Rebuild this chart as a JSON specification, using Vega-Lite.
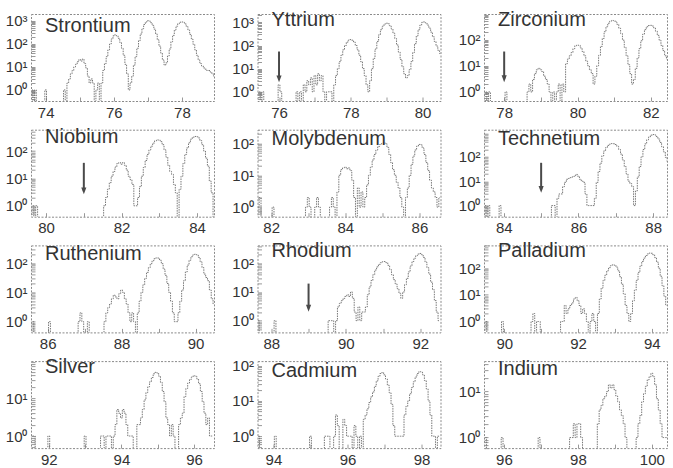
{
  "$schema": "https://vega.github.io/schema/vega-lite/v6.json",
  "padding": {"left": 4, "top": 7, "right": 0, "bottom": 0},
  "background": "white",
  "config": {
    "view": {"stroke": "#8a8a8a", "strokeWidth": 1, "strokeDash": [2, 1.5]},
    "axis": {
      "labelFont": "Liberation Sans", "labelFontSize": 15, "labelColor": "#333",
      "domain": false, "grid": false, "title": null,
      "tickColor": "#999", "tickSize": -4, "tickWidth": 1,
      "labelPadding": 8, "labelOverlap": false, "labelFlush": false, "labelBound": false
    },
    "axisX": {"labelExpr": "datum.value % 2 == 0 ? datum.label : ''"},
    "axisY": {"labelExpr": "datum.value == 1 ? '10⁰' : datum.value == 10 ? '10¹' : datum.value == 100 ? '10²' : datum.value == 1000 ? '10³' : ''"},
    "title": {"anchor": "start", "frame": "group", "offset": -22, "dx": 14, "baseline": "top",
      "font": "Liberation Sans", "fontSize": 20, "fontWeight": "normal", "color": "#333"}
  },
  "datasets": {
    "arrows": [
      {"el": "Y", "m": 76, "top": 55, "head": 3.6},
      {"el": "Zr", "m": 78, "top": 35, "head": 3.2},
      {"el": "Nb", "m": 81, "top": 37, "head": 3.5},
      {"el": "Tc", "m": 85, "top": 57, "head": 4.6},
      {"el": "Rh", "m": 89, "top": 19.6, "head": 2.7}
    ],
    "Sr": [
      {"m":73.60,"n":1},{"m":73.65,"n":0.1},{"m":73.70,"n":1},{"m":73.75,"n":0.1},
      {"m":73.95,"n":0.1},{"m":74.00,"n":1},{"m":74.05,"n":0.1},
      {"m":74.50,"n":0.1},{"m":74.55,"n":1},{"m":74.60,"n":0.1},{"m":74.65,"n":2},
      {"m":74.70,"n":3},{"m":74.75,"n":5},{"m":74.80,"n":7},{"m":74.85,"n":10},{"m":74.90,"n":13},{"m":74.95,"n":17},{"m":75.00,"n":21},{"m":75.05,"n":18},{"m":75.10,"n":22},{"m":75.15,"n":14},{"m":75.20,"n":9},{"m":75.25,"n":4},{"m":75.30,"n":2},{"m":75.35,"n":3},{"m":75.40,"n":2},{"m":75.45,"n":0.1},{"m":75.50,"n":1},{"m":75.55,"n":2},{"m":75.60,"n":0.1},
      {"m":75.65,"n":2},{"m":75.70,"n":7},{"m":75.75,"n":14},{"m":75.80,"n":28},{"m":75.85,"n":55},{"m":75.90,"n":100},{"m":75.95,"n":165},{"m":76.00,"n":225},{"m":76.05,"n":250},{"m":76.10,"n":225},{"m":76.15,"n":175},{"m":76.20,"n":115},{"m":76.25,"n":65},{"m":76.30,"n":32},{"m":76.35,"n":13},{"m":76.40,"n":5},{"m":76.45,"n":1},{"m":76.50,"n":2},{"m":76.55,"n":4},
      {"m":76.60,"n":12},{"m":76.65,"n":28},{"m":76.70,"n":65},{"m":76.75,"n":140},{"m":76.80,"n":270},{"m":76.85,"n":460},{"m":76.90,"n":700},{"m":76.95,"n":900},{"m":77.00,"n":1020},{"m":77.05,"n":980},{"m":77.10,"n":840},{"m":77.15,"n":640},{"m":77.20,"n":440},{"m":77.25,"n":270},{"m":77.30,"n":150},{"m":77.35,"n":80},{"m":77.40,"n":40},{"m":77.45,"n":20},{"m":77.50,"n":12},{"m":77.55,"n":15},{"m":77.60,"n":30},
      {"m":77.65,"n":60},{"m":77.70,"n":125},{"m":77.75,"n":235},{"m":77.80,"n":400},{"m":77.85,"n":590},{"m":77.90,"n":760},{"m":77.95,"n":880},{"m":78.00,"n":910},{"m":78.05,"n":870},{"m":78.10,"n":740},{"m":78.15,"n":570},{"m":78.20,"n":400},{"m":78.25,"n":260},{"m":78.30,"n":160},{"m":78.35,"n":95},{"m":78.40,"n":55},{"m":78.45,"n":32},{"m":78.50,"n":20},{"m":78.55,"n":14},{"m":78.60,"n":11},{"m":78.65,"n":9},{"m":78.70,"n":8},{"m":78.75,"n":7},{"m":78.80,"n":7},{"m":78.85,"n":6},{"m":78.90,"n":5},{"m":78.95,"n":4}
    ],
    "Y": [
      {"m":75.45,"n":1},{"m":75.50,"n":0.1},{"m":75.55,"n":1},{"m":75.60,"n":0.1},
      {"m":75.95,"n":0.1},{"m":76.00,"n":2},{"m":76.05,"n":1},{"m":76.10,"n":0.1},
      {"m":76.45,"n":0.1},{"m":76.50,"n":1},{"m":76.55,"n":0.1},{"m":76.60,"n":1},{"m":76.65,"n":0.1},{"m":76.70,"n":2},{"m":76.75,"n":1},{"m":76.80,"n":3},{"m":76.85,"n":2},{"m":76.90,"n":4},{"m":76.95,"n":1},{"m":77.00,"n":5},{"m":77.05,"n":2},{"m":77.10,"n":6},{"m":77.15,"n":3},{"m":77.20,"n":5},{"m":77.25,"n":1},{"m":77.30,"n":0.1},{"m":77.35,"n":1},{"m":77.40,"n":1},{"m":77.45,"n":1},{"m":77.50,"n":0.1},
      {"m":77.55,"n":2},{"m":77.60,"n":5},{"m":77.65,"n":10},{"m":77.70,"n":20},{"m":77.75,"n":38},{"m":77.80,"n":65},{"m":77.85,"n":100},{"m":77.90,"n":140},{"m":77.95,"n":170},{"m":78.00,"n":180},{"m":78.05,"n":170},{"m":78.10,"n":140},{"m":78.15,"n":100},{"m":78.20,"n":65},{"m":78.25,"n":38},{"m":78.30,"n":20},{"m":78.35,"n":10},{"m":78.40,"n":5},{"m":78.45,"n":2},{"m":78.50,"n":1},
      {"m":78.55,"n":3},{"m":78.60,"n":10},{"m":78.65,"n":28},{"m":78.70,"n":70},{"m":78.75,"n":150},{"m":78.80,"n":290},{"m":78.85,"n":480},{"m":78.90,"n":680},{"m":78.95,"n":850},{"m":79.00,"n":920},{"m":79.05,"n":870},{"m":79.10,"n":720},{"m":79.15,"n":520},{"m":79.20,"n":340},{"m":79.25,"n":200},{"m":79.30,"n":105},{"m":79.35,"n":52},{"m":79.40,"n":25},{"m":79.45,"n":12},{"m":79.50,"n":6},{"m":79.55,"n":4},{"m":79.60,"n":5},{"m":79.65,"n":9},
      {"m":79.70,"n":20},{"m":79.75,"n":50},{"m":79.80,"n":120},{"m":79.85,"n":260},{"m":79.90,"n":480},{"m":79.95,"n":760},{"m":80.00,"n":1000},{"m":80.05,"n":1050},{"m":80.10,"n":950},{"m":80.15,"n":760},{"m":80.20,"n":560},{"m":80.25,"n":380},{"m":80.30,"n":240},{"m":80.35,"n":150},{"m":80.40,"n":95},{"m":80.45,"n":62},{"m":80.50,"n":45}
    ],
    "Zr": [
      {"m":77.50,"n":1},{"m":77.55,"n":0.1},{"m":77.60,"n":1},{"m":77.65,"n":0.1},
      {"m":78.00,"n":0.1},{"m":78.05,"n":1},{"m":78.10,"n":0.1},
      {"m":78.60,"n":0.1},{"m":78.65,"n":1},{"m":78.70,"n":2},{"m":78.75,"n":1},
      {"m":78.80,"n":3},{"m":78.85,"n":5},{"m":78.90,"n":7},{"m":78.95,"n":8},{"m":79.00,"n":7},{"m":79.05,"n":6},{"m":79.10,"n":4},{"m":79.15,"n":3},{"m":79.20,"n":2},{"m":79.25,"n":1},{"m":79.30,"n":0.1},{"m":79.35,"n":1},{"m":79.40,"n":0.1},{"m":79.45,"n":1},{"m":79.50,"n":2},{"m":79.55,"n":0.1},{"m":79.60,"n":2},{"m":79.65,"n":1},
      {"m":79.70,"n":12},{"m":79.75,"n":18},{"m":79.80,"n":24},{"m":79.85,"n":32},{"m":79.90,"n":45},{"m":79.95,"n":58},{"m":80.00,"n":62},{"m":80.05,"n":60},{"m":80.10,"n":48},{"m":80.15,"n":35},{"m":80.20,"n":24},{"m":80.25,"n":15},{"m":80.30,"n":10},{"m":80.35,"n":7},{"m":80.40,"n":5},{"m":80.45,"n":2},{"m":80.50,"n":4},
      {"m":80.55,"n":10},{"m":80.60,"n":25},{"m":80.65,"n":55},{"m":80.70,"n":110},{"m":80.75,"n":200},{"m":80.80,"n":310},{"m":80.85,"n":420},{"m":80.90,"n":500},{"m":80.95,"n":540},{"m":81.00,"n":530},{"m":81.05,"n":470},{"m":81.10,"n":380},{"m":81.15,"n":270},{"m":81.20,"n":170},{"m":81.25,"n":95},{"m":81.30,"n":50},{"m":81.35,"n":24},{"m":81.40,"n":11},{"m":81.45,"n":5},{"m":81.50,"n":2},{"m":81.55,"n":3},
      {"m":81.60,"n":8},{"m":81.65,"n":20},{"m":81.70,"n":45},{"m":81.75,"n":90},{"m":81.80,"n":160},{"m":81.85,"n":240},{"m":81.90,"n":310},{"m":81.95,"n":345},{"m":82.00,"n":350},{"m":82.05,"n":330},{"m":82.10,"n":280},{"m":82.15,"n":210},{"m":82.20,"n":145},{"m":82.25,"n":95},{"m":82.30,"n":60},{"m":82.35,"n":38},{"m":82.40,"n":24},{"m":82.45,"n":18}
    ],
    "Nb": [
      {"m":79.65,"n":1},{"m":79.70,"n":0.1},{"m":79.75,"n":1},{"m":79.80,"n":0.1},
      {"m":81.50,"n":0.1},{"m":81.55,"n":1},{"m":81.60,"n":2},{"m":81.65,"n":4},{"m":81.70,"n":7},{"m":81.75,"n":12},{"m":81.80,"n":18},{"m":81.85,"n":26},{"m":81.90,"n":35},{"m":81.95,"n":38},{"m":82.00,"n":33},{"m":82.05,"n":38},{"m":82.10,"n":30},{"m":82.15,"n":20},{"m":82.20,"n":12},{"m":82.25,"n":9},{"m":82.30,"n":6},{"m":82.35,"n":1},{"m":82.40,"n":1},{"m":82.45,"n":2},
      {"m":82.50,"n":5},{"m":82.55,"n":12},{"m":82.60,"n":25},{"m":82.65,"n":45},{"m":82.70,"n":75},{"m":82.75,"n":110},{"m":82.80,"n":150},{"m":82.85,"n":195},{"m":82.90,"n":235},{"m":82.95,"n":255},{"m":83.00,"n":250},{"m":83.05,"n":220},{"m":83.10,"n":170},{"m":83.15,"n":110},{"m":83.20,"n":60},{"m":83.25,"n":30},{"m":83.30,"n":18},{"m":83.35,"n":14},{"m":83.40,"n":6},{"m":83.45,"n":3},{"m":83.50,"n":0.1},
      {"m":83.55,"n":4},{"m":83.60,"n":12},{"m":83.65,"n":35},{"m":83.70,"n":75},{"m":83.75,"n":130},{"m":83.80,"n":200},{"m":83.85,"n":270},{"m":83.90,"n":320},{"m":83.95,"n":340},{"m":84.00,"n":335},{"m":84.05,"n":300},{"m":84.10,"n":240},{"m":84.15,"n":170},{"m":84.20,"n":100},{"m":84.25,"n":55},{"m":84.30,"n":28},{"m":84.35,"n":8},{"m":84.40,"n":3},{"m":84.45,"n":0.1}
    ],
    "Mo": [
      {"m":81.65,"n":1},{"m":81.70,"n":2},{"m":81.75,"n":0.1},
      {"m":82.00,"n":0.1},{"m":82.05,"n":1},{"m":82.10,"n":0.1},
      {"m":82.90,"n":0.1},{"m":82.95,"n":1},{"m":83.00,"n":2},{"m":83.05,"n":1},{"m":83.10,"n":0.1},
      {"m":83.15,"n":0.1},{"m":83.20,"n":1},{"m":83.25,"n":2},{"m":83.30,"n":1},{"m":83.35,"n":0.1},
      {"m":83.55,"n":0.1},{"m":83.60,"n":1},{"m":83.65,"n":2},{"m":83.70,"n":1},{"m":83.75,"n":0.1},
      {"m":83.80,"n":3},{"m":83.85,"n":10},{"m":83.90,"n":15},{"m":83.95,"n":17},{"m":84.00,"n":18},{"m":84.05,"n":16},{"m":84.10,"n":17},{"m":84.15,"n":14},{"m":84.20,"n":7},{"m":84.25,"n":2},{"m":84.30,"n":0.1},{"m":84.35,"n":4},{"m":84.40,"n":1},{"m":84.45,"n":3},{"m":84.50,"n":1},
      {"m":84.55,"n":2},{"m":84.60,"n":5},{"m":84.65,"n":10},{"m":84.70,"n":18},{"m":84.75,"n":30},{"m":84.80,"n":45},{"m":84.85,"n":62},{"m":84.90,"n":80},{"m":84.95,"n":92},{"m":85.00,"n":100},{"m":85.05,"n":105},{"m":85.10,"n":98},{"m":85.15,"n":75},{"m":85.20,"n":45},{"m":85.25,"n":25},{"m":85.30,"n":15},{"m":85.35,"n":10},{"m":85.40,"n":6},{"m":85.45,"n":4},{"m":85.50,"n":2},{"m":85.55,"n":1},{"m":85.60,"n":0.1},
      {"m":85.65,"n":2},{"m":85.70,"n":4},{"m":85.75,"n":10},{"m":85.80,"n":22},{"m":85.85,"n":40},{"m":85.90,"n":62},{"m":85.95,"n":82},{"m":86.00,"n":93},{"m":86.05,"n":90},{"m":86.10,"n":72},{"m":86.15,"n":45},{"m":86.20,"n":25},{"m":86.25,"n":14},{"m":86.30,"n":7},{"m":86.35,"n":4},{"m":86.40,"n":3},{"m":86.45,"n":2},{"m":86.50,"n":1},{"m":86.55,"n":2}
    ],
    "Tc": [
      {"m":83.50,"n":1},{"m":83.55,"n":0.1},{"m":83.60,"n":1},{"m":83.65,"n":0.1},
      {"m":83.85,"n":0.1},{"m":83.90,"n":1},{"m":83.95,"n":0.1},
      {"m":85.25,"n":0.1},{"m":85.30,"n":1},{"m":85.35,"n":1},{"m":85.40,"n":0.1},
      {"m":85.45,"n":2},{"m":85.50,"n":3},{"m":85.55,"n":3},{"m":85.60,"n":6},{"m":85.65,"n":9},{"m":85.70,"n":12},{"m":85.75,"n":13},{"m":85.80,"n":14},{"m":85.85,"n":15},{"m":85.90,"n":16},{"m":85.95,"n":19},{"m":86.00,"n":16},{"m":86.05,"n":12},{"m":86.10,"n":10},{"m":86.15,"n":9},{"m":86.20,"n":3},{"m":86.25,"n":1},{"m":86.30,"n":1},{"m":86.35,"n":1},{"m":86.40,"n":1},{"m":86.45,"n":2},
      {"m":86.50,"n":9},{"m":86.55,"n":25},{"m":86.60,"n":55},{"m":86.65,"n":110},{"m":86.70,"n":175},{"m":86.75,"n":240},{"m":86.80,"n":295},{"m":86.85,"n":330},{"m":86.90,"n":350},{"m":86.95,"n":345},{"m":87.00,"n":320},{"m":87.05,"n":270},{"m":87.10,"n":200},{"m":87.15,"n":130},{"m":87.20,"n":75},{"m":87.25,"n":40},{"m":87.30,"n":20},{"m":87.35,"n":10},{"m":87.40,"n":8},{"m":87.45,"n":6},{"m":87.50,"n":1},
      {"m":87.55,"n":4},{"m":87.60,"n":15},{"m":87.65,"n":40},{"m":87.70,"n":100},{"m":87.75,"n":200},{"m":87.80,"n":340},{"m":87.85,"n":500},{"m":87.90,"n":650},{"m":87.95,"n":780},{"m":88.00,"n":820},{"m":88.05,"n":790},{"m":88.10,"n":680},{"m":88.15,"n":540},{"m":88.20,"n":390},{"m":88.25,"n":260},{"m":88.30,"n":160},{"m":88.35,"n":95},{"m":88.40,"n":60}
    ],
    "Ru": [
      {"m":85.60,"n":1},{"m":85.65,"n":0.1},
      {"m":86.00,"n":0.1},{"m":86.05,"n":1},{"m":86.10,"n":0.1},
      {"m":86.80,"n":0.1},{"m":86.85,"n":1},{"m":86.90,"n":2},{"m":86.95,"n":1},{"m":87.00,"n":0.1},{"m":87.05,"n":0.1},{"m":87.10,"n":1},{"m":87.15,"n":0.1},
      {"m":87.50,"n":0.1},{"m":87.55,"n":1},{"m":87.60,"n":2},
      {"m":87.65,"n":3},{"m":87.70,"n":4},{"m":87.75,"n":6},{"m":87.80,"n":8},{"m":87.85,"n":7},{"m":87.90,"n":6},{"m":87.95,"n":9},{"m":88.00,"n":12},{"m":88.05,"n":10},{"m":88.10,"n":6},{"m":88.15,"n":4},{"m":88.20,"n":2},{"m":88.25,"n":1},{"m":88.30,"n":2},{"m":88.35,"n":1},{"m":88.40,"n":0.1},
      {"m":88.45,"n":2},{"m":88.50,"n":5},{"m":88.55,"n":10},{"m":88.60,"n":18},{"m":88.65,"n":30},{"m":88.70,"n":48},{"m":88.75,"n":70},{"m":88.80,"n":95},{"m":88.85,"n":120},{"m":88.90,"n":140},{"m":88.95,"n":150},{"m":89.00,"n":148},{"m":89.05,"n":125},{"m":89.10,"n":95},{"m":89.15,"n":62},{"m":89.20,"n":38},{"m":89.25,"n":20},{"m":89.30,"n":10},{"m":89.35,"n":5},{"m":89.40,"n":2},{"m":89.45,"n":1},{"m":89.50,"n":1},
      {"m":89.55,"n":2},{"m":89.60,"n":5},{"m":89.65,"n":12},{"m":89.70,"n":25},{"m":89.75,"n":50},{"m":89.80,"n":85},{"m":89.85,"n":125},{"m":89.90,"n":165},{"m":89.95,"n":190},{"m":90.00,"n":200},{"m":90.05,"n":190},{"m":90.10,"n":155},{"m":90.15,"n":110},{"m":90.20,"n":70},{"m":90.25,"n":42},{"m":90.30,"n":32},{"m":90.35,"n":25},{"m":90.40,"n":12},{"m":90.45,"n":6},{"m":90.50,"n":4}
    ],
    "Rh": [
      {"m":87.65,"n":1},{"m":87.70,"n":0.1},
      {"m":88.05,"n":0.1},{"m":88.10,"n":1},{"m":88.15,"n":0.1},
      {"m":89.50,"n":0.1},{"m":89.55,"n":1},{"m":89.60,"n":1},{"m":89.65,"n":1},{"m":89.70,"n":0.1},
      {"m":89.75,"n":1},{"m":89.80,"n":3},{"m":89.85,"n":4},{"m":89.90,"n":5},{"m":89.95,"n":6},{"m":90.00,"n":7},{"m":90.05,"n":8},{"m":90.10,"n":7},{"m":90.15,"n":10},{"m":90.20,"n":6},{"m":90.25,"n":2},{"m":90.30,"n":1},{"m":90.35,"n":3},{"m":90.40,"n":1},{"m":90.45,"n":2},{"m":90.50,"n":2},
      {"m":90.55,"n":3},{"m":90.60,"n":8},{"m":90.65,"n":15},{"m":90.70,"n":25},{"m":90.75,"n":40},{"m":90.80,"n":58},{"m":90.85,"n":75},{"m":90.90,"n":92},{"m":90.95,"n":105},{"m":91.00,"n":113},{"m":91.05,"n":115},{"m":91.10,"n":105},{"m":91.15,"n":85},{"m":91.20,"n":60},{"m":91.25,"n":40},{"m":91.30,"n":27},{"m":91.35,"n":19},{"m":91.40,"n":13},{"m":91.45,"n":9},{"m":91.50,"n":6},{"m":91.55,"n":10},
      {"m":91.60,"n":18},{"m":91.65,"n":30},{"m":91.70,"n":50},{"m":91.75,"n":80},{"m":91.80,"n":115},{"m":91.85,"n":150},{"m":91.90,"n":185},{"m":91.95,"n":210},{"m":92.00,"n":220},{"m":92.05,"n":200},{"m":92.10,"n":160},{"m":92.15,"n":110},{"m":92.20,"n":70},{"m":92.25,"n":42},{"m":92.30,"n":22},{"m":92.35,"n":12},{"m":92.40,"n":5},{"m":92.45,"n":2},{"m":92.50,"n":1}
    ],
    "Pd": [
      {"m":89.50,"n":1},{"m":89.55,"n":0.1},
      {"m":89.90,"n":0.1},{"m":89.95,"n":1},{"m":90.00,"n":0.1},
      {"m":90.70,"n":0.1},{"m":90.75,"n":1},{"m":90.80,"n":2},{"m":90.85,"n":0.1},{"m":90.90,"n":1},{"m":90.95,"n":1},{"m":91.00,"n":0.1},
      {"m":91.50,"n":0.1},{"m":91.55,"n":1},{"m":91.60,"n":1},
      {"m":91.65,"n":4},{"m":91.70,"n":2},{"m":91.75,"n":3},{"m":91.80,"n":4},{"m":91.85,"n":5},{"m":91.90,"n":7},{"m":91.95,"n":8},{"m":92.00,"n":6},{"m":92.05,"n":4},{"m":92.10,"n":2},{"m":92.15,"n":3},{"m":92.20,"n":2},{"m":92.25,"n":1},{"m":92.30,"n":0.1},{"m":92.35,"n":1},{"m":92.40,"n":2},{"m":92.45,"n":1},{"m":92.50,"n":0.1},
      {"m":92.55,"n":2},{"m":92.60,"n":7},{"m":92.65,"n":18},{"m":92.70,"n":35},{"m":92.75,"n":55},{"m":92.80,"n":80},{"m":92.85,"n":105},{"m":92.90,"n":125},{"m":92.95,"n":135},{"m":93.00,"n":130},{"m":93.05,"n":110},{"m":93.10,"n":80},{"m":93.15,"n":48},{"m":93.20,"n":25},{"m":93.25,"n":11},{"m":93.30,"n":4},{"m":93.35,"n":2},{"m":93.40,"n":1},{"m":93.45,"n":2},
      {"m":93.50,"n":6},{"m":93.55,"n":15},{"m":93.60,"n":35},{"m":93.65,"n":70},{"m":93.70,"n":120},{"m":93.75,"n":180},{"m":93.80,"n":240},{"m":93.85,"n":300},{"m":93.90,"n":345},{"m":93.95,"n":370},{"m":94.00,"n":365},{"m":94.05,"n":320},{"m":94.10,"n":250},{"m":94.15,"n":170},{"m":94.20,"n":100},{"m":94.25,"n":50},{"m":94.30,"n":22},{"m":94.35,"n":9},{"m":94.40,"n":4}
    ],
    "Ag": [
      {"m":91.55,"n":1},{"m":91.60,"n":1},{"m":91.65,"n":0.1},
      {"m":91.95,"n":0.1},{"m":92.00,"n":1},{"m":92.05,"n":0.1},
      {"m":92.95,"n":0.1},{"m":93.00,"n":1},{"m":93.05,"n":0.1},
      {"m":93.40,"n":0.1},{"m":93.45,"n":1},{"m":93.50,"n":1},{"m":93.55,"n":0.1},{"m":93.60,"n":1},{"m":93.65,"n":1},{"m":93.70,"n":1},{"m":93.75,"n":0.1},{"m":93.80,"n":1},
      {"m":93.85,"n":2},{"m":93.90,"n":5},{"m":93.95,"n":4},{"m":94.00,"n":3},{"m":94.05,"n":5},{"m":94.10,"n":4},{"m":94.15,"n":2},{"m":94.20,"n":1},{"m":94.25,"n":1},{"m":94.30,"n":1},{"m":94.35,"n":0.1},
      {"m":94.40,"n":0.1},{"m":94.45,"n":2},{"m":94.50,"n":2},{"m":94.55,"n":3},{"m":94.60,"n":5},{"m":94.65,"n":9},{"m":94.70,"n":14},{"m":94.75,"n":20},{"m":94.80,"n":27},{"m":94.85,"n":35},{"m":94.90,"n":44},{"m":94.95,"n":48},{"m":95.00,"n":46},{"m":95.05,"n":38},{"m":95.10,"n":26},{"m":95.15,"n":15},{"m":95.20,"n":8},{"m":95.25,"n":3},{"m":95.30,"n":2},{"m":95.35,"n":1},{"m":95.40,"n":2},{"m":95.45,"n":1},{"m":95.50,"n":0.1},{"m":95.55,"n":0.1},{"m":95.60,"n":2},{"m":95.65,"n":3},{"m":95.70,"n":4},
      {"m":95.75,"n":11},{"m":95.80,"n":18},{"m":95.85,"n":25},{"m":95.90,"n":31},{"m":95.95,"n":36},{"m":96.00,"n":39},{"m":96.05,"n":38},{"m":96.10,"n":32},{"m":96.15,"n":24},{"m":96.20,"n":15},{"m":96.25,"n":8},{"m":96.30,"n":4},{"m":96.35,"n":2},{"m":96.40,"n":3},{"m":96.45,"n":1},{"m":96.50,"n":1}
    ],
    "Cd": [
      {"m":93.60,"n":1},{"m":93.65,"n":0.1},
      {"m":94.00,"n":0.1},{"m":94.05,"n":1},{"m":94.10,"n":0.1},
      {"m":94.95,"n":0.1},{"m":95.00,"n":1},{"m":95.05,"n":0.1},
      {"m":95.35,"n":0.1},{"m":95.40,"n":1},{"m":95.45,"n":1},{"m":95.50,"n":1},{"m":95.55,"n":0.1},{"m":95.60,"n":0.1},{"m":95.65,"n":1},{"m":95.70,"n":4},{"m":95.75,"n":2},{"m":95.80,"n":0.1},{"m":95.85,"n":0.1},{"m":95.90,"n":3},{"m":95.95,"n":2},{"m":96.00,"n":1},{"m":96.05,"n":1},{"m":96.10,"n":1},{"m":96.15,"n":0.1},{"m":96.20,"n":2},{"m":96.25,"n":1},{"m":96.30,"n":0.1},{"m":96.35,"n":1},{"m":96.40,"n":0.1},
      {"m":96.45,"n":3},{"m":96.50,"n":4},{"m":96.55,"n":6},{"m":96.60,"n":9},{"m":96.65,"n":13},{"m":96.70,"n":18},{"m":96.75,"n":26},{"m":96.80,"n":37},{"m":96.85,"n":50},{"m":96.90,"n":60},{"m":96.95,"n":64},{"m":97.00,"n":55},{"m":97.05,"n":42},{"m":97.10,"n":28},{"m":97.15,"n":17},{"m":97.20,"n":8},{"m":97.25,"n":2},{"m":97.30,"n":1},{"m":97.35,"n":1},{"m":97.40,"n":1},{"m":97.45,"n":1},{"m":97.50,"n":1},
      {"m":97.55,"n":4},{"m":97.60,"n":7},{"m":97.65,"n":10},{"m":97.70,"n":16},{"m":97.75,"n":24},{"m":97.80,"n":35},{"m":97.85,"n":48},{"m":97.90,"n":60},{"m":97.95,"n":68},{"m":98.00,"n":66},{"m":98.05,"n":55},{"m":98.10,"n":38},{"m":98.15,"n":22},{"m":98.20,"n":10},{"m":98.25,"n":4},{"m":98.30,"n":1},{"m":98.35,"n":1},{"m":98.40,"n":0.1},{"m":98.45,"n":1},{"m":98.50,"n":1}
    ],
    "In": [
      {"m":95.50,"n":1},{"m":95.55,"n":0.1},
      {"m":95.90,"n":0.1},{"m":95.95,"n":1},{"m":96.00,"n":0.1},
      {"m":96.90,"n":0.1},{"m":96.95,"n":1},{"m":97.00,"n":0.1},
      {"m":97.75,"n":0.1},{"m":97.80,"n":1},{"m":97.85,"n":1},{"m":97.90,"n":2},{"m":97.95,"n":1},{"m":98.00,"n":2},{"m":98.05,"n":2},{"m":98.10,"n":1},{"m":98.15,"n":0.1},
      {"m":98.50,"n":0.1},{"m":98.55,"n":2},{"m":98.60,"n":4},{"m":98.65,"n":5},{"m":98.70,"n":7},{"m":98.75,"n":8},{"m":98.80,"n":10},{"m":98.85,"n":14},{"m":98.90,"n":12},{"m":98.95,"n":14},{"m":99.00,"n":11},{"m":99.05,"n":8},{"m":99.10,"n":6},{"m":99.15,"n":4},{"m":99.20,"n":3},{"m":99.25,"n":2},{"m":99.30,"n":1},{"m":99.35,"n":0.1},
      {"m":99.55,"n":0.1},{"m":99.60,"n":1},{"m":99.65,"n":2},{"m":99.70,"n":3},{"m":99.75,"n":6},{"m":99.80,"n":9},{"m":99.85,"n":13},{"m":99.90,"n":18},{"m":99.95,"n":21},{"m":100.00,"n":25},{"m":100.05,"n":21},{"m":100.10,"n":14},{"m":100.15,"n":7},{"m":100.20,"n":4},{"m":100.25,"n":2},{"m":100.30,"n":1},{"m":100.35,"n":1},{"m":100.40,"n":1}
    ]
  },
  "columns": 3,
  "bounds": "flush",
  "spacing": {"row": 28.7, "column": 43.5},
  "concat": [
    {
      "title": "Strontium", "width": 183, "height": 87,
      "data": {"name": "Sr"},
      "mark": {"type": "line", "interpolate": "step", "clip": true, "stroke": "#777", "strokeWidth": 1, "strokeDash": [1.5, 1]},
      "encoding": {
        "x": {"field": "m", "type": "quantitative", "scale": {"domain": [73.57, 78.94], "nice": false, "zero": false}, "axis": {"values": [74, 75, 76, 77, 78]}},
        "y": {"field": "n", "type": "quantitative", "scale": {"type": "log", "domain": [0.33, 2000], "nice": false}, "axis": {"values": [0.4,0.5,0.6,0.7,0.8,0.9,1,2,3,4,5,6,7,8,9,10,20,30,40,50,60,70,80,90,100,200,300,400,500,600,700,800,900,1000]}}
      }
    },
    {
      "title": "Yttrium", "width": 183, "height": 87,
      "layer": [
        {
          "data": {"name": "Y"},
          "mark": {"type": "line", "interpolate": "step", "clip": true, "stroke": "#777", "strokeWidth": 1, "strokeDash": [1.5, 1]},
          "encoding": {
            "x": {"field": "m", "type": "quantitative", "scale": {"domain": [75.4, 80.5], "nice": false, "zero": false}, "axis": {"values": [76, 77, 78, 79, 80]}},
            "y": {"field": "n", "type": "quantitative", "scale": {"type": "log", "domain": [0.4, 2300], "nice": false}, "axis": {"values": [0.5,0.6,0.7,0.8,0.9,1,2,3,4,5,6,7,8,9,10,20,30,40,50,60,70,80,90,100,200,300,400,500,600,700,800,900,1000,2000]}}
          }
        },
        {
          "data": {"name": "arrows"}, "transform": [{"filter": "datum.el == 'Y'"}],
          "mark": {"type": "rule", "color": "#4a4a4a", "strokeWidth": 2},
          "encoding": {"x": {"field": "m", "type": "quantitative"}, "y": {"field": "top", "type": "quantitative"}, "y2": {"field": "head"}}
        },
        {
          "data": {"name": "arrows"}, "transform": [{"filter": "datum.el == 'Y'"}],
          "mark": {"type": "point", "shape": "M-0.45,-0.6L0.45,-0.6L0,0.6Z", "filled": true, "opacity": 1, "size": 130, "color": "#4a4a4a"},
          "encoding": {"x": {"field": "m", "type": "quantitative"}, "y": {"field": "head", "type": "quantitative"}}
        }
      ]
    },
    {
      "title": "Zirconium", "width": 183, "height": 87,
      "layer": [
        {
          "data": {"name": "Zr"},
          "mark": {"type": "line", "interpolate": "step", "clip": true, "stroke": "#777", "strokeWidth": 1, "strokeDash": [1.5, 1]},
          "encoding": {
            "x": {"field": "m", "type": "quantitative", "scale": {"domain": [77.45, 82.44], "nice": false, "zero": false}, "axis": {"values": [78, 79, 80, 81, 82]}},
            "y": {"field": "n", "type": "quantitative", "scale": {"type": "log", "domain": [0.45, 950], "nice": false}, "axis": {"values": [0.5,0.6,0.7,0.8,0.9,1,2,3,4,5,6,7,8,9,10,20,30,40,50,60,70,80,90,100,200,300,400,500,600,700,800,900]}}
          }
        },
        {
          "data": {"name": "arrows"}, "transform": [{"filter": "datum.el == 'Zr'"}],
          "mark": {"type": "rule", "color": "#4a4a4a", "strokeWidth": 2},
          "encoding": {"x": {"field": "m", "type": "quantitative"}, "y": {"field": "top", "type": "quantitative"}, "y2": {"field": "head"}}
        },
        {
          "data": {"name": "arrows"}, "transform": [{"filter": "datum.el == 'Zr'"}],
          "mark": {"type": "point", "shape": "M-0.45,-0.6L0.45,-0.6L0,0.6Z", "filled": true, "opacity": 1, "size": 130, "color": "#4a4a4a"},
          "encoding": {"x": {"field": "m", "type": "quantitative"}, "y": {"field": "head", "type": "quantitative"}}
        }
      ]
    },
    {
      "title": "Niobium", "width": 183, "height": 87,
      "layer": [
        {
          "data": {"name": "Nb"},
          "mark": {"type": "line", "interpolate": "step", "clip": true, "stroke": "#777", "strokeWidth": 1, "strokeDash": [1.5, 1]},
          "encoding": {
            "x": {"field": "m", "type": "quantitative", "scale": {"domain": [79.6, 84.45], "nice": false, "zero": false}, "axis": {"values": [80, 81, 82, 83, 84]}},
            "y": {"field": "n", "type": "quantitative", "scale": {"type": "log", "domain": [0.4, 600], "nice": false}, "axis": {"values": [0.5,0.6,0.7,0.8,0.9,1,2,3,4,5,6,7,8,9,10,20,30,40,50,60,70,80,90,100,200,300,400,500]}}
          }
        },
        {
          "data": {"name": "arrows"}, "transform": [{"filter": "datum.el == 'Nb'"}],
          "mark": {"type": "rule", "color": "#4a4a4a", "strokeWidth": 2},
          "encoding": {"x": {"field": "m", "type": "quantitative"}, "y": {"field": "top", "type": "quantitative"}, "y2": {"field": "head"}}
        },
        {
          "data": {"name": "arrows"}, "transform": [{"filter": "datum.el == 'Nb'"}],
          "mark": {"type": "point", "shape": "M-0.45,-0.6L0.45,-0.6L0,0.6Z", "filled": true, "opacity": 1, "size": 130, "color": "#4a4a4a"},
          "encoding": {"x": {"field": "m", "type": "quantitative"}, "y": {"field": "head", "type": "quantitative"}}
        }
      ]
    },
    {
      "title": "Molybdenum", "width": 183, "height": 87,
      "data": {"name": "Mo"},
      "mark": {"type": "line", "interpolate": "step", "clip": true, "stroke": "#777", "strokeWidth": 1, "strokeDash": [1.5, 1]},
      "encoding": {
        "x": {"field": "m", "type": "quantitative", "scale": {"domain": [81.63, 86.57], "nice": false, "zero": false}, "axis": {"values": [82, 83, 84, 85, 86]}},
        "y": {"field": "n", "type": "quantitative", "scale": {"type": "log", "domain": [0.5, 270], "nice": false}, "axis": {"values": [0.6,0.7,0.8,0.9,1,2,3,4,5,6,7,8,9,10,20,30,40,50,60,70,80,90,100,200]}}
      }
    },
    {
      "title": "Technetium", "width": 183, "height": 87,
      "layer": [
        {
          "data": {"name": "Tc"},
          "mark": {"type": "line", "interpolate": "step", "clip": true, "stroke": "#777", "strokeWidth": 1, "strokeDash": [1.5, 1]},
          "encoding": {
            "x": {"field": "m", "type": "quantitative", "scale": {"domain": [83.47, 88.37], "nice": false, "zero": false}, "axis": {"values": [84, 85, 86, 87, 88]}},
            "y": {"field": "n", "type": "quantitative", "scale": {"type": "log", "domain": [0.35, 1300], "nice": false}, "axis": {"values": [0.4,0.5,0.6,0.7,0.8,0.9,1,2,3,4,5,6,7,8,9,10,20,30,40,50,60,70,80,90,100,200,300,400,500,600,700,800,900]}}
          }
        },
        {
          "data": {"name": "arrows"}, "transform": [{"filter": "datum.el == 'Tc'"}],
          "mark": {"type": "rule", "color": "#4a4a4a", "strokeWidth": 2},
          "encoding": {"x": {"field": "m", "type": "quantitative"}, "y": {"field": "top", "type": "quantitative"}, "y2": {"field": "head"}}
        },
        {
          "data": {"name": "arrows"}, "transform": [{"filter": "datum.el == 'Tc'"}],
          "mark": {"type": "point", "shape": "M-0.45,-0.6L0.45,-0.6L0,0.6Z", "filled": true, "opacity": 1, "size": 130, "color": "#4a4a4a"},
          "encoding": {"x": {"field": "m", "type": "quantitative"}, "y": {"field": "head", "type": "quantitative"}}
        }
      ]
    },
    {
      "title": "Ruthenium", "width": 183, "height": 87,
      "data": {"name": "Ru"},
      "mark": {"type": "line", "interpolate": "step", "clip": true, "stroke": "#777", "strokeWidth": 1, "strokeDash": [1.5, 1]},
      "encoding": {
        "x": {"field": "m", "type": "quantitative", "scale": {"domain": [85.55, 90.5], "nice": false, "zero": false}, "axis": {"values": [86, 87, 88, 89, 90]}},
        "y": {"field": "n", "type": "quantitative", "scale": {"type": "log", "domain": [0.43, 400], "nice": false}, "axis": {"values": [0.5,0.6,0.7,0.8,0.9,1,2,3,4,5,6,7,8,9,10,20,30,40,50,60,70,80,90,100,200,300]}}
      }
    },
    {
      "title": "Rhodium", "width": 183, "height": 87,
      "layer": [
        {
          "data": {"name": "Rh"},
          "mark": {"type": "line", "interpolate": "step", "clip": true, "stroke": "#777", "strokeWidth": 1, "strokeDash": [1.5, 1]},
          "encoding": {
            "x": {"field": "m", "type": "quantitative", "scale": {"domain": [87.63, 92.54], "nice": false, "zero": false}, "axis": {"values": [88, 89, 90, 91, 92]}},
            "y": {"field": "n", "type": "quantitative", "scale": {"type": "log", "domain": [0.39, 420], "nice": false}, "axis": {"values": [0.5,0.6,0.7,0.8,0.9,1,2,3,4,5,6,7,8,9,10,20,30,40,50,60,70,80,90,100,200,300,400]}}
          }
        },
        {
          "data": {"name": "arrows"}, "transform": [{"filter": "datum.el == 'Rh'"}],
          "mark": {"type": "rule", "color": "#4a4a4a", "strokeWidth": 2},
          "encoding": {"x": {"field": "m", "type": "quantitative"}, "y": {"field": "top", "type": "quantitative"}, "y2": {"field": "head"}}
        },
        {
          "data": {"name": "arrows"}, "transform": [{"filter": "datum.el == 'Rh'"}],
          "mark": {"type": "point", "shape": "M-0.45,-0.6L0.45,-0.6L0,0.6Z", "filled": true, "opacity": 1, "size": 130, "color": "#4a4a4a"},
          "encoding": {"x": {"field": "m", "type": "quantitative"}, "y": {"field": "head", "type": "quantitative"}}
        }
      ]
    },
    {
      "title": "Palladium", "width": 183, "height": 87,
      "data": {"name": "Pd"},
      "mark": {"type": "line", "interpolate": "step", "clip": true, "stroke": "#777", "strokeWidth": 1, "strokeDash": [1.5, 1]},
      "encoding": {
        "x": {"field": "m", "type": "quantitative", "scale": {"domain": [89.45, 94.41], "nice": false, "zero": false}, "axis": {"values": [90, 91, 92, 93, 94]}},
        "y": {"field": "n", "type": "quantitative", "scale": {"type": "log", "domain": [0.39, 720], "nice": false}, "axis": {"values": [0.5,0.6,0.7,0.8,0.9,1,2,3,4,5,6,7,8,9,10,20,30,40,50,60,70,80,90,100,200,300,400,500,600,700]}}
      }
    },
    {
      "title": "Silver", "width": 183, "height": 87,
      "data": {"name": "Ag"},
      "mark": {"type": "line", "interpolate": "step", "clip": true, "stroke": "#777", "strokeWidth": 1, "strokeDash": [1.5, 1]},
      "encoding": {
        "x": {"field": "m", "type": "quantitative", "scale": {"domain": [91.51, 96.55], "nice": false, "zero": false}, "axis": {"values": [92, 93, 94, 95, 96]}},
        "y": {"field": "n", "type": "quantitative", "scale": {"type": "log", "domain": [0.48, 95], "nice": false}, "axis": {"values": [0.5,0.6,0.7,0.8,0.9,1,2,3,4,5,6,7,8,9,10,20,30,40,50,60,70,80,90]}}
      }
    },
    {
      "title": "Cadmium", "width": 183, "height": 87,
      "data": {"name": "Cd"},
      "mark": {"type": "line", "interpolate": "step", "clip": true, "stroke": "#777", "strokeWidth": 1, "strokeDash": [1.5, 1]},
      "encoding": {
        "x": {"field": "m", "type": "quantitative", "scale": {"domain": [93.57, 98.51], "nice": false, "zero": false}, "axis": {"values": [94, 95, 96, 97, 98]}},
        "y": {"field": "n", "type": "quantitative", "scale": {"type": "log", "domain": [0.46, 135], "nice": false}, "axis": {"values": [0.5,0.6,0.7,0.8,0.9,1,2,3,4,5,6,7,8,9,10,20,30,40,50,60,70,80,90,100]}}
      }
    },
    {
      "title": "Indium", "width": 183, "height": 87,
      "data": {"name": "In"},
      "mark": {"type": "line", "interpolate": "step", "clip": true, "stroke": "#777", "strokeWidth": 1, "strokeDash": [1.5, 1]},
      "encoding": {
        "x": {"field": "m", "type": "quantitative", "scale": {"domain": [95.46, 100.41], "nice": false, "zero": false}, "axis": {"values": [96, 97, 98, 99, 100]}},
        "y": {"field": "n", "type": "quantitative", "scale": {"type": "log", "domain": [0.59, 46], "nice": false}, "axis": {"values": [0.6,0.7,0.8,0.9,1,2,3,4,5,6,7,8,9,10,20,30,40]}}
      }
    }
  ]
}
